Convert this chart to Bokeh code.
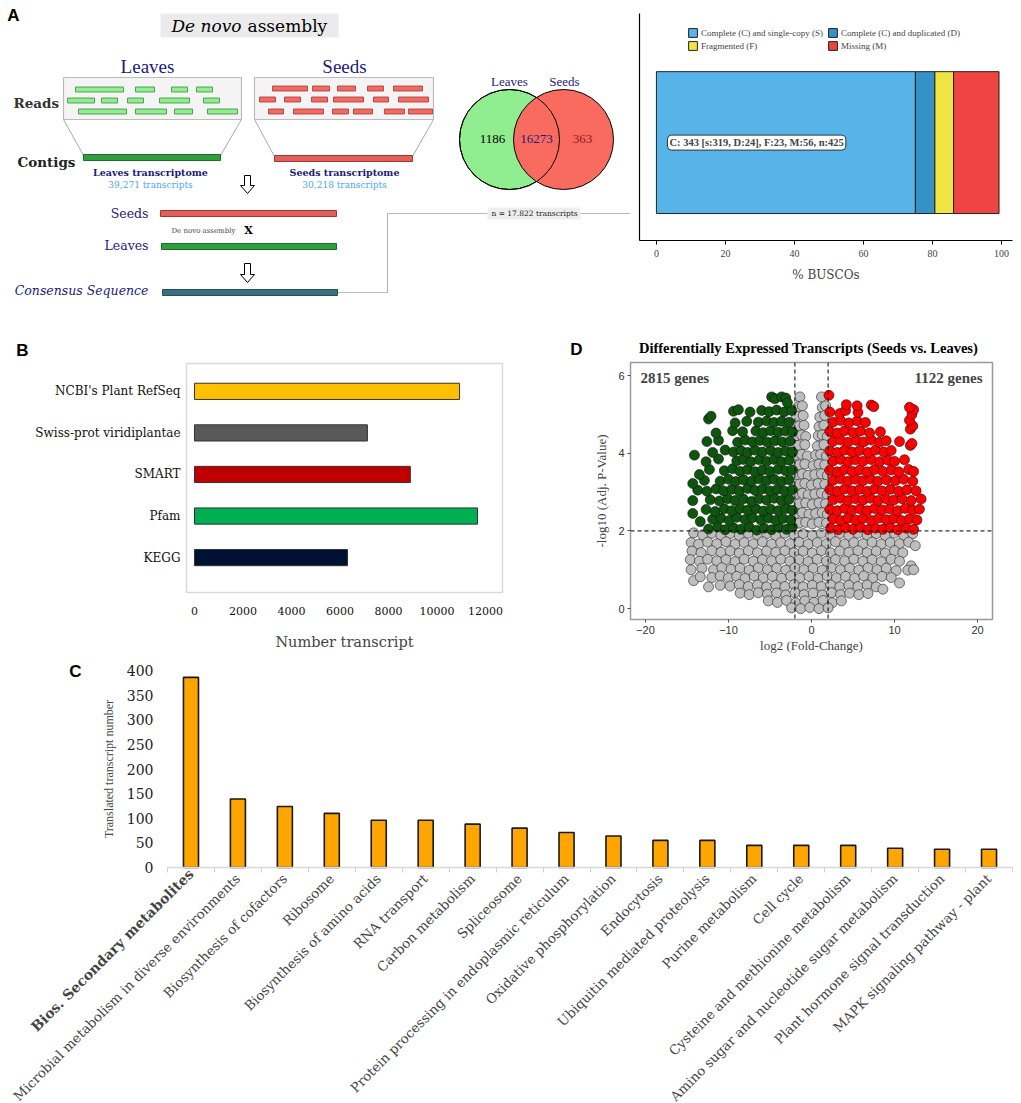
import math
from bokeh.plotting import figure
from bokeh.models import (Range1d, Label, Legend, LegendItem, FixedTicker, Span,
                          ColumnDataSource, LinearAxis)
from bokeh.layouts import column, row
from bokeh.embed import file_html
from bokeh.resources import INLINE
from bokeh.core.properties import value

SERIF = "DejaVu Serif"
TIMES = "Liberation Serif"
SANS = "Liberation Sans"
NAVY = "#1a1a7e"

# ---------------- data ----------------
venn_sets = ["Leaves", "Seeds"]
leaves_only, shared, seeds_only = 1186, 16273, 363
consensus_n = "17.822"
leaves_transcripts = "39,271"
seeds_transcripts = "30,218"

busco_classes = ["Complete (C) and single-copy (S)", "Complete (C) and duplicated (D)",
                 "Fragmented (F)", "Missing (M)"]
busco_counts = [319, 24, 23, 56]
busco_total = 425
busco_colors = ["#56B4E9", "#3492C7", "#F0E442", "#F04442"]
busco_ticks = [0, 20, 40, 60, 80, 100]

db_names = ["NCBI's Plant RefSeq", "Swiss-prot viridiplantae", "SMART", "Pfam", "KEGG"]
db_counts = [10930, 7130, 8900, 11670, 6310]
db_colors = ["#FFC000", "#595959", "#C00000", "#00B050", "#001233"]
db_ticks = [0, 2000, 4000, 6000, 8000, 10000, 12000]

kegg_paths = ["Bios. Secondary metabolites", "Microbial metabolism in diverse environments",
              "Biosynthesis of cofactors", "Ribosome", "Biosynthesis of amino acids",
              "RNA transport", "Carbon metabolism", "Spliceosome",
              "Protein processing in endoplasmic reticulum", "Oxidative phosphorylation",
              "Endocytosis", "Ubiquitin mediated proteolysis", "Purine metabolism", "Cell cycle",
              "Cysteine and methionine metabolism", "Amino sugar and nucleotide sugar metabolism",
              "Plant hormone signal transduction", "MAPK signaling pathway - plant"]
kegg_counts = [386, 139, 124, 110, 96, 96, 88, 80, 71, 64, 55, 55, 45, 45, 45, 39, 37, 37]
kegg_ticks = [0, 50, 100, 150, 200, 250, 300, 350, 400]

down_genes, up_genes = 2815, 1122
fc_cut, p_cut = 2, 2
volcano_xticks = [-20, -10, 0, 10, 20]
volcano_yticks = [0, 2, 4, 6]

green_points = [
 (-12.4,2.05),(-11.3,2.1),(-10.4,2.03),(-9.4,2.08),(-8.5,2.04),(-7.5,2.1),(-6.6,2.02),(-5.7,2.07),(-4.8,2.03),(-3.9,2.09),(-3.0,2.04),(-2.3,2.1),
 (-13.4,2.24),(-11.9,2.3),(-10.9,2.33),(-9.9,2.27),(-9.0,2.35),(-8.0,2.29),(-7.1,2.34),(-6.1,2.28),(-5.2,2.33),(-4.3,2.27),(-3.4,2.32),(-2.5,2.28),
 (-14.3,2.45),(-12.7,2.55),(-11.6,2.5),(-10.5,2.57),(-9.6,2.52),(-8.6,2.58),(-7.7,2.53),(-6.7,2.57),(-5.8,2.51),(-4.9,2.56),(-4.0,2.52),(-3.1,2.58),(-2.3,2.53),
 (-14.3,2.78),(-12.2,2.8),(-11.1,2.77),(-10.1,2.83),(-9.2,2.78),(-8.2,2.82),(-7.2,2.76),(-6.3,2.83),(-5.4,2.79),(-4.5,2.84),(-3.6,2.78),(-2.7,2.81),
 (-13.7,3.05),(-12.6,3.02),(-11.5,3.08),(-10.6,3.03),(-9.6,3.07),(-8.7,3.02),(-7.7,3.09),(-6.8,3.04),(-5.9,3.08),(-5.0,3.03),(-4.1,3.07),(-3.2,3.02),(-2.3,3.06),
 (-14.3,3.22),(-12.9,3.3),(-11.0,3.28),(-10.0,3.33),(-9.1,3.27),(-8.2,3.32),(-7.2,3.28),(-6.3,3.34),(-5.4,3.29),(-4.5,3.33),(-3.6,3.27),(-2.7,3.31),
 (-13.5,3.45),(-12.3,3.58),(-10.5,3.55),(-9.5,3.6),(-8.6,3.53),(-7.7,3.58),(-6.8,3.52),(-5.9,3.57),(-5.0,3.53),(-4.0,3.59),(-3.1,3.54),(-2.3,3.57),
 (-12.7,3.78),(-11.2,3.85),(-9.0,3.8),(-8.2,3.84),(-7.3,3.78),(-6.3,3.83),(-5.4,3.79),(-4.5,3.84),(-3.6,3.78),(-2.7,3.82),
 (-14.1,3.95),(-11.9,4.02),(-10.4,4.08),(-9.4,4.03),(-8.5,4.07),(-7.7,4.02),(-6.8,4.08),(-5.9,4.03),(-4.9,4.07),(-4.0,4.02),(-3.1,4.06),(-2.3,4.03),
 (-12.6,4.3),(-11.2,4.33),(-8.9,4.28),(-8.0,4.34),(-7.1,4.29),(-6.2,4.33),(-5.3,4.28),(-4.4,4.32),(-3.5,4.29),(-2.6,4.31),
 (-11.5,4.52),(-9.5,4.58),(-8.3,4.55),(-6.7,4.57),(-5.8,4.53),(-4.9,4.58),(-4.0,4.54),(-3.1,4.57),(-2.3,4.55),
 (-9.2,4.78),(-7.8,4.82),(-6.4,4.8),(-5.4,4.83),(-4.5,4.79),(-3.6,4.82),(-2.7,4.8),
 (-12.4,4.88),(-12.1,4.95),
 (-9.4,5.08),(-8.8,5.12),(-7.4,5.06),(-6.0,5.1),(-5.1,5.07),(-4.2,5.11),(-3.3,5.06),(-2.4,5.1),
 (-4.8,5.45),(-4.4,5.4),(-3.6,5.45),(-3.1,5.42),(-2.9,5.3),
]

red_points = [
 (2.3,2.07),(3.2,2.03),(4.1,2.08),(5.0,2.04),(5.9,2.09),(6.8,2.03),(7.7,2.07),(8.6,2.04),(9.5,2.08),(10.4,2.03),(11.4,2.07),(12.3,2.04),
 (2.6,2.31),(3.5,2.27),(4.4,2.33),(5.3,2.28),(6.2,2.32),(7.2,2.27),(8.1,2.33),(9.0,2.29),(9.9,2.32),(10.8,2.27),(11.8,2.31),(12.7,2.28),
 (2.2,2.55),(3.1,2.52),(4.0,2.58),(4.9,2.53),(5.8,2.57),(6.7,2.52),(7.6,2.58),(8.5,2.54),(9.4,2.57),(10.4,2.52),(11.3,2.58),(12.2,2.53),(13.0,2.56),
 (2.6,2.8),(3.5,2.84),(4.4,2.78),(5.3,2.83),(6.2,2.79),(7.1,2.84),(8.0,2.78),(9.0,2.82),(9.9,2.79),(10.9,2.83),(12.0,2.78),(13.2,2.82),
 (2.2,3.06),(3.1,3.02),(4.0,3.08),(4.9,3.03),(5.8,3.07),(6.7,3.02),(7.6,3.08),(8.5,3.03),(9.5,3.07),(10.5,3.02),(11.5,3.06),(12.6,3.03),
 (2.6,3.3),(3.5,3.34),(4.4,3.28),(5.3,3.33),(6.2,3.29),(7.1,3.34),(8.0,3.28),(9.0,3.32),(10.1,3.29),(11.1,3.33),(12.2,3.28),
 (2.2,3.56),(3.1,3.52),(4.0,3.58),(4.9,3.53),(5.8,3.57),(6.7,3.52),(7.6,3.58),(8.6,3.53),(9.6,3.57),(10.5,3.52),(11.7,3.58),(12.3,3.53),
 (2.6,3.8),(3.5,3.84),(4.4,3.78),(5.3,3.83),(6.2,3.79),(7.2,3.84),(8.2,3.78),(9.2,3.82),(10.0,3.79),(11.2,3.83),
 (2.2,4.06),(3.1,4.02),(4.0,4.08),(4.9,4.03),(5.8,4.07),(6.8,4.02),(7.7,4.08),(8.7,4.03),(9.6,4.07),(11.9,4.2),
 (2.6,4.3),(3.5,4.34),(4.4,4.28),(5.4,4.33),(6.3,4.29),(7.2,4.34),(8.2,4.28),(9.0,4.32),(10.6,4.3),(12.1,4.25),
 (2.2,4.56),(3.1,4.52),(4.0,4.58),(5.0,4.53),(5.9,4.57),(7.0,4.52),(8.3,4.55),(11.9,4.62),(12.2,4.7),
 (2.6,4.8),(3.5,4.84),(4.5,4.78),(5.5,4.83),(6.5,4.79),(11.8,4.85),
 (2.2,5.06),(3.4,5.02),(4.1,5.1),(5.6,5.05),(12.1,5.0),(12.3,5.12),
 (4.2,5.25),(5.5,5.22),(7.2,5.24),(7.5,5.2),(11.8,5.18),
 (2.1,5.49),
]

gray_points = [
 (-1.4,5.45),(1.2,5.45),(-1.6,5.2),(-1.1,5.22),(1.3,5.18),(1.7,5.22),
 (-1.8,4.95),(-1.0,4.97),(1.0,4.93),(1.6,4.97),(-1.5,4.7),(-0.9,4.72),(0.9,4.68),(1.5,4.72),
 (-1.9,4.45),(-1.2,4.47),(-0.7,4.43),(0.8,4.45),(1.3,4.47),(1.9,4.43),
 (-1.6,4.2),(-0.8,4.22),(0.7,4.18),(1.5,4.22),
 (-1.9,3.95),(-1.2,3.97),(-0.5,3.93),(0.5,3.95),(1.1,3.97),(1.8,3.93),
 (-1.5,3.7),(-0.8,3.72),(0.2,3.68),(0.9,3.72),(1.6,3.7),
 (-1.9,3.45),(-1.1,3.47),(-0.4,3.43),(0.4,3.45),(1.2,3.47),(1.9,3.43),
 (-1.5,3.2),(-0.8,3.22),(0.0,3.18),(0.8,3.22),(1.6,3.2),
 (-1.9,2.95),(-1.1,2.97),(-0.4,2.93),(0.4,2.95),(1.2,2.97),(1.9,2.93),
 (-1.5,2.7),(-0.7,2.72),(0.1,2.68),(0.9,2.72),(1.7,2.7),
 (-1.9,2.45),(-1.1,2.47),(-0.3,2.43),(0.5,2.45),(1.3,2.47),(1.9,2.43),
 (-1.5,2.2),(-0.7,2.22),(0.1,2.18),(0.9,2.22),(1.8,2.2),
 (-14.2,1.95),(-13.1,1.9),(-12.0,1.94),(-10.9,1.89),(-9.8,1.93),(-8.7,1.88),(-7.6,1.94),(-6.5,1.89),(-5.4,1.93),(-4.3,1.88),(-3.2,1.94),(-2.1,1.9),(-1.0,1.93),(0.1,1.88),(1.2,1.94),(2.3,1.89),(3.4,1.93),(4.5,1.88),(5.6,1.94),(6.7,1.89),(7.8,1.93),(8.9,1.88),(10.0,1.94),(11.1,1.89),(12.2,1.93),
 (-14.5,1.7),(-13.6,1.66),(-12.5,1.71),(-11.4,1.67),(-10.3,1.72),(-9.2,1.66),(-8.1,1.7),(-7.0,1.67),(-5.9,1.72),(-4.8,1.66),(-3.7,1.7),(-2.6,1.67),(-1.5,1.71),(-0.4,1.66),(0.7,1.7),(1.8,1.67),(2.9,1.72),(4.0,1.66),(5.1,1.7),(6.2,1.67),(7.3,1.71),(8.4,1.66),(9.5,1.7),(10.6,1.67),(11.7,1.71),(12.5,1.62),
 (-14.4,1.48),(-13.3,1.44),(-12.0,1.49),(-10.9,1.45),(-9.8,1.48),(-8.7,1.43),(-7.6,1.49),(-6.5,1.44),(-5.4,1.48),(-4.3,1.45),(-3.2,1.49),(-2.1,1.44),(-1.0,1.48),(0.1,1.43),(1.2,1.49),(2.3,1.44),(3.4,1.48),(4.5,1.45),(5.6,1.49),(6.7,1.44),(7.8,1.48),(8.9,1.43),(10.0,1.49),(11.0,1.44),
 (-14.6,1.26),(-13.5,1.22),(-12.5,1.27),(-11.4,1.23),(-10.3,1.26),(-9.2,1.21),(-8.1,1.27),(-7.0,1.22),(-5.9,1.26),(-4.8,1.23),(-3.7,1.27),(-2.6,1.22),(-1.5,1.26),(-0.4,1.21),(0.7,1.27),(1.8,1.22),(2.9,1.26),(4.0,1.23),(5.1,1.27),(6.2,1.22),(7.3,1.26),(8.4,1.21),(9.6,1.27),(10.6,1.22),(12.0,1.1),
 (-14.5,1.0),(-13.2,1.04),(-11.8,1.0),(-10.8,1.05),(-9.7,1.01),(-8.6,1.04),(-7.5,0.99),(-6.4,1.05),(-5.3,1.0),(-4.2,1.04),(-3.1,0.99),(-2.0,1.05),(-0.9,1.0),(0.2,1.04),(1.3,0.99),(2.4,1.05),(3.5,1.0),(4.6,1.04),(5.7,0.99),(6.8,1.05),(7.9,1.0),(9.0,1.04),(10.2,0.98),(11.6,0.99),(12.3,1.0),
 (-14.2,0.72),(-13.4,0.82),(-12.0,0.8),(-11.0,0.84),(-10.0,0.79),(-9.0,0.83),(-8.0,0.78),(-6.9,0.84),(-5.8,0.79),(-4.7,0.83),(-3.6,0.78),(-2.5,0.84),(-1.4,0.79),(-0.3,0.83),(0.8,0.78),(1.9,0.84),(3.0,0.79),(4.1,0.83),(5.2,0.78),(6.3,0.84),(7.4,0.79),(8.5,0.83),(9.6,0.8),(10.6,0.66),
 (-12.4,0.56),(-11.0,0.6),(-9.8,0.58),(-8.7,0.62),(-7.6,0.57),(-6.5,0.61),(-5.4,0.56),(-4.3,0.6),(-3.2,0.57),(-2.1,0.62),(-1.0,0.56),(0.1,0.6),(1.2,0.57),(2.3,0.61),(3.4,0.56),(4.5,0.6),(5.6,0.57),(6.7,0.61),(7.8,0.56),(8.6,0.5),
 (-8.6,0.4),(-7.5,0.36),(-6.4,0.41),(-5.3,0.37),(-4.2,0.4),(-3.1,0.35),(-2.0,0.41),(-0.9,0.36),(0.2,0.4),(1.3,0.35),(2.4,0.41),(3.5,0.36),(4.6,0.4),(5.7,0.36),(6.8,0.39),
 (-5.2,0.2),(-4.1,0.16),(-3.0,0.21),(-1.9,0.15),(-0.8,0.2),(0.3,0.16),(1.4,0.21),(2.5,0.15),(3.6,0.2),
 (-2.4,0.02),(-1.3,0.0),(-0.2,0.03),(0.9,0.0),(2.0,0.02),
]

# ---------------- helpers ----------------
def no_align(p):
    try:
        p.frame_align = False
    except AttributeError:
        pass
    return p

def txt(p, x, y, s, size, color="black", font=SERIF, style="normal", align="center"):
    p.text(x=[x], y=[y], text=[s], text_font=value(font), text_font_size=size,
           text_color=color, text_font_style=style, text_align=align, text_baseline="middle")

def blank(width, height, xr, yr):
    p = figure(width=width, height=height, x_range=Range1d(*xr), y_range=Range1d(*yr),
               x_axis_location=None, y_axis_location=None, toolbar_location=None,
               output_backend="svg", min_border=0, outline_line_color=None)
    p.grid.visible = False
    return no_align(p)

# ---------------- Panel A : schematic + Venn (canvas units, y measured down) ----------------
H = 320
def Y(v):
    return H - v

pa = blank(630, 320, (0, 630), (0, 320))

txt(pa, 13, Y(15), "A", "17px", font=SANS, style="bold")
pa.quad(left=[160], right=[338], top=[Y(13)], bottom=[Y(37)], fill_color="#ebebeb", line_color=None)
txt(pa, 241, Y(25), "De novo", "17px", style="italic", align="right")
txt(pa, 247, Y(25), "assembly", "17px", align="left")

txt(pa, 147, Y(66), "Leaves", "19px", color=NAVY, font=TIMES)
txt(pa, 344, Y(66), "Seeds", "19px", color=NAVY, font=TIMES)

pa.quad(left=[63, 254], right=[241, 433], top=[Y(77), Y(77)], bottom=[Y(119), Y(119)],
        fill_color="#f4f4f4", line_color="#bbbbbb", line_width=1.2)
pa.segment(x0=[63, 241, 254, 433], y0=[Y(119)] * 4, x1=[83, 220, 274, 412],
           y1=[Y(155), Y(155), Y(156), Y(156)], line_color="#aaaaaa", line_width=1)

leaf_read_l = [75, 135, 171, 196, 67, 101, 127, 159, 203, 78, 135, 174, 207]
leaf_read_r = [123, 154, 187, 212, 94, 117, 143, 189, 219, 126, 166, 192, 237]
leaf_read_y = [89, 89, 89, 89, 100, 100, 100, 100, 100, 111, 111, 111, 111]
pa.quad(left=leaf_read_l, right=leaf_read_r, top=[Y(y - 2.5) for y in leaf_read_y],
        bottom=[Y(y + 2.5) for y in leaf_read_y], fill_color="#90EE90", line_color="#3a8a3a", line_width=0.8)
seed_read_l = [272, 312, 337, 367, 393, 259, 284, 311, 333, 373, 398, 268, 293, 332, 353, 384, 408]
seed_read_r = [307, 329, 355, 383, 422, 275, 300, 327, 363, 388, 428, 283, 323, 348, 372, 404, 432]
seed_read_y = [88, 88, 88, 88, 88, 99, 99, 99, 99, 99, 99, 111, 111, 111, 111, 111, 111]
pa.quad(left=seed_read_l, right=seed_read_r, top=[Y(y - 2.5) for y in seed_read_y],
        bottom=[Y(y + 2.5) for y in seed_read_y], fill_color="#F26B63", line_color="#a83232", line_width=0.8)

pa.quad(left=[83], right=[220], top=[Y(154)], bottom=[Y(160)], fill_color="#2E9E3E", line_color="#1d6b27")
pa.quad(left=[274], right=[412], top=[Y(155)], bottom=[Y(161)], fill_color="#E0605A", line_color="#a83232")
txt(pa, 13, Y(102), "Reads", "13.5px", color="#333333", style="bold", align="left")
txt(pa, 17, Y(161), "Contigs", "13.5px", color="#222222", style="bold", align="left")
txt(pa, 150, Y(172), "Leaves transcriptome", "9.5px", color=NAVY, style="bold")
txt(pa, 150, Y(184), leaves_transcripts + " transcripts", "9px", color="#4da3ff")
txt(pa, 344, Y(172), "Seeds transcriptome", "9.5px", color=NAVY, style="bold")
txt(pa, 344, Y(184), seeds_transcripts + " transcripts", "9px", color="#4da3ff")

for cx, ty, by in [(247, 175, 193), (247, 263, 282)]:
    xs = [cx - 3, cx + 3, cx + 3, cx + 7, cx, cx - 7, cx - 3]
    ys = [ty, ty, by - 8, by - 8, by, by - 8, by - 8]
    pa.patch(xs, [Y(v) for v in ys], fill_color="white", line_color="black", line_width=1)

pa.quad(left=[160], right=[336], top=[Y(210)], bottom=[Y(216)], fill_color="#E0605A", line_color="#a83232")
pa.quad(left=[161], right=[336], top=[Y(243)], bottom=[Y(249)], fill_color="#2E9E3E", line_color="#1d6b27")
pa.quad(left=[162], right=[337], top=[Y(289)], bottom=[Y(295)], fill_color="#3B6E7E", line_color="#24505c")
txt(pa, 148, Y(213), "Seeds", "12.5px", color=NAVY, align="right")
txt(pa, 148, Y(245), "Leaves", "12.5px", color=NAVY, align="right")
txt(pa, 148, Y(290), "Consensus Sequence", "12.5px", color=NAVY, style="italic", align="right")
txt(pa, 171, Y(230), "De novo assembly", "7px", color="#444444", align="left")
txt(pa, 248, Y(230), "X", "11px", style="bold")

pa.line(x=[338, 387, 387, 630], y=[Y(292), Y(292), Y(213), Y(213)], line_color="#777777",
        line_dash="1 1", line_width=1.2)
pa.quad(left=[487], right=[580], top=[Y(207)], bottom=[Y(219)], fill_color="#eeeeee", line_color=None)
txt(pa, 534, Y(213), "n = " + consensus_n + " transcripts", "7.5px", color="#222222")

pa.circle(x=[509], y=[Y(139)], radius=50, fill_color="#90EE90", line_color="black", line_width=1)
pa.circle(x=[563], y=[Y(139)], radius=50, fill_color="#FA6B5F", line_color="black", line_width=1)
pa.circle(x=[509], y=[Y(139)], radius=50, fill_color=None, line_color="black", line_width=1)
txt(pa, 509, Y(81), venn_sets[0], "13px", color=NAVY, font=TIMES)
txt(pa, 564, Y(81), venn_sets[1], "13px", color=NAVY, font=TIMES)
txt(pa, 492, Y(138), str(leaves_only), "13px", font=TIMES)
txt(pa, 536, Y(138), str(shared), "13px", color=NAVY, font=TIMES)
txt(pa, 582, Y(138), str(seeds_only), "13px", color="#8b1a1a", font=TIMES)

# ---------------- Panel A : BUSCO ----------------
pbu = no_align(figure(width=383, height=320, x_range=Range1d(-4.9, 103.2), y_range=Range1d(-0.19, 1.41),
             toolbar_location=None, output_backend="svg", min_border_left=9, min_border_right=1,
             min_border_top=13, min_border_bottom=80, outline_line_color=None))
pbu.grid.visible = False
pct = [c / busco_total * 100 for c in busco_counts]
lefts, rights, acc = [], [], 0.0
for v in pct:
    lefts.append(acc)
    acc += v
    rights.append(acc)
bsrc = ColumnDataSource(dict(left=lefts, right=rights, color=busco_colors))
rb = pbu.hbar(y=0.5, height=1.0, left="left", right="right", fill_color="color",
              line_color="#222222", line_width=1, source=bsrc)
for k, (a, b) in enumerate([(0, 1), (2, 3)]):
    leg = Legend(items=[LegendItem(label=busco_classes[a], renderers=[rb], index=a),
                        LegendItem(label=busco_classes[b], renderers=[rb], index=b)],
                 orientation="horizontal", location=(48, 202 - 13 * k),
                 glyph_width=11, glyph_height=11, label_width=126, label_height=11,
                 label_standoff=3, spacing=0, padding=0, margin=0,
                 border_line_color=None, background_fill_alpha=0,
                 label_text_font=TIMES, label_text_font_size="9px")
    pbu.add_layout(leg)
s, d, f, m = busco_counts
pbu.add_layout(Label(x=3.2, y=0.5, text=f"C: {s + d} [s:{s}, D:{d}], F:{f}, M:{m}, n:{busco_total}",
                     text_font=TIMES, text_font_style="bold", text_font_size="10.5px",
                     text_baseline="middle", background_fill_color="white",
                     border_line_color="#333333", padding=2, border_radius=4))
pbu.xaxis.ticker = FixedTicker(ticks=busco_ticks)
pbu.xaxis.axis_label = "% BUSCOs"
pbu.xaxis.axis_label_text_font = SERIF
pbu.xaxis.axis_label_text_font_style = "normal"
pbu.xaxis.axis_label_text_font_size = "12px"
pbu.xaxis.axis_label_standoff = 8
pbu.xaxis.major_label_text_font = TIMES
pbu.xaxis.major_label_text_font_size = "10px"
pbu.xaxis.major_label_standoff = 5
pbu.xaxis.major_tick_out = 4
pbu.xaxis.major_tick_in = 0
pbu.xaxis.minor_tick_line_color = None
pbu.axis.axis_line_width = 1.2
pbu.yaxis.ticker = FixedTicker(ticks=[])
pbu.yaxis.major_tick_line_color = None
pbu.yaxis.minor_tick_line_color = None
pbu.yaxis.major_tick_out = 0
pbu.yaxis.major_label_standoff = 0

# ---------------- strip with panel letters B, D and the title of D ----------------
SH = 41
strip = blank(1013, SH, (0, 1013), (0, SH))
txt(strip, 22, 361 - 350, "B", "17px", font=SANS, style="bold")
txt(strip, 576, 361 - 349, "D", "17px", font=SANS, style="bold")
txt(strip, 808, 361 - 347, "Differentially Expressed Transcripts (Seeds vs. Leaves)", "14.5px",
    font=TIMES, style="bold")

# ---------------- Panel B ----------------
pb = no_align(figure(width=575, height=294, x_range=Range1d(-330, 12700), y_range=Range1d(0.16, 5.67),
            toolbar_location=None, output_backend="svg", min_border_left=186, min_border_right=73,
            min_border_top=2, min_border_bottom=63, outline_line_color="#d9d9d9", outline_line_width=1.5))
pb.grid.visible = False
db_pos = list(range(len(db_names), 0, -1))
pb.hbar(y=db_pos, height=0.39, left=0, right=db_counts, fill_color=db_colors,
        line_color="#333333", line_width=1)
pb.yaxis.ticker = FixedTicker(ticks=db_pos)
pb.yaxis.major_label_overrides = {p: n for p, n in zip(db_pos, db_names)}
pb.yaxis.major_label_text_font = SERIF
pb.yaxis.major_label_text_font_size = "12px"
pb.yaxis.major_label_standoff = 6
pb.xaxis.ticker = FixedTicker(ticks=db_ticks)
pb.xaxis.major_label_text_font = SERIF
pb.xaxis.major_label_text_font_size = "11px"
pb.xaxis.major_label_standoff = 14
pb.xaxis.axis_label = "Number transcript"
pb.xaxis.axis_label_text_font = SERIF
pb.xaxis.axis_label_text_font_style = "normal"
pb.xaxis.axis_label_text_font_size = "14.5px"
pb.xaxis.axis_label_standoff = 16
for ax in pb.axis:
    ax.axis_line_color = None
    ax.major_tick_line_color = None
    ax.minor_tick_line_color = None
    ax.major_tick_out = 0
    ax.major_label_text_color = "#111111"

# ---------------- Panel D ----------------
pdv = no_align(figure(width=438, height=294, x_range=Range1d(-21.8, 21.8), y_range=Range1d(-0.28, 6.335),
             toolbar_location=None, output_backend="svg", min_border_left=55, min_border_right=21,
             min_border_top=1, min_border_bottom=35, outline_line_color="#9a9a9a", outline_line_width=1.5))
pdv.grid.visible = False
gx, gy = zip(*gray_points)
grx, gry = zip(*green_points)
rx, ry = zip(*red_points)
pdv.scatter(list(gx), list(gy), size=10, fill_color="#BEBEBE", line_color="#222222", line_width=0.6)
pdv.scatter(list(grx), list(gry), size=10, fill_color="#0E560E", line_color="#111111", line_width=0.6)
pdv.scatter(list(rx), list(ry), size=10, fill_color="#FF0000", line_color="#330000", line_width=0.6)
for loc, dim in [(-fc_cut, "height"), (fc_cut, "height"), (p_cut, "width")]:
    pdv.add_layout(Span(location=loc, dimension=dim, line_color="black", line_dash="4 3", line_width=1))
pdv.xaxis.ticker = FixedTicker(ticks=volcano_xticks)
pdv.yaxis.ticker = FixedTicker(ticks=volcano_yticks)
pdv.xaxis.axis_label = "log2 (Fold-Change)"
pdv.yaxis.axis_label = "-log10 (Adj. P-Value)"
for ax in pdv.axis:
    ax.axis_line_color = None
    ax.major_tick_line_color = "#4d4d4d"
    ax.minor_tick_line_color = None
    ax.major_tick_out = 3
    ax.major_tick_in = 0
    ax.major_label_text_font = SANS
    ax.major_label_text_font_size = "11px"
    ax.major_label_text_color = "#333333"
    ax.major_label_standoff = 3
    ax.axis_label_text_font = TIMES
    ax.axis_label_text_font_style = "normal"
    ax.axis_label_text_font_size = "13px"
pdv.xaxis.axis_label_standoff = 1
pdv.yaxis.axis_label_standoff = 6
pdv.add_layout(Label(x=-20.6, y=5.94, text=f"{down_genes} genes", text_font=TIMES,
                     text_font_style="bold", text_font_size="15px",
                     text_align="left", text_baseline="middle"))
pdv.add_layout(Label(x=20.6, y=5.94, text=f"{up_genes} genes", text_font=TIMES,
                     text_font_style="bold", text_font_size="15px",
                     text_align="right", text_baseline="middle"))

# ---------------- Panel C (frame covers the whole canvas; axes pinned inside it) ----------------
C_TOP, C_H = 655, 448
C_PPX = 845 / len(kegg_paths)      # pixels per category
C_PPY = 197 / 400                  # pixels per transcript
pc = no_align(figure(width=1013, height=C_H,
            x_range=Range1d(-167 / C_PPX, (1013 - 167) / C_PPX),
            y_range=Range1d(-(C_TOP + C_H - 867) / C_PPY, (867 - C_TOP) / C_PPY),
            x_axis_location=None, y_axis_location=None,
            toolbar_location=None, output_backend="svg", min_border=0, outline_line_color=None))
pc.grid.visible = False
centers = [i + 0.5 for i in range(len(kegg_paths))]
bounds = list(range(len(kegg_paths) + 1))
pc.vbar(x=centers, top=kegg_counts, width=0.32, bottom=0, fill_color="#FFA500",
        line_color="#1a1a1a", line_width=1.6)

xax = LinearAxis(fixed_location=0, bounds=(0, len(kegg_paths)),
                 ticker=FixedTicker(ticks=centers[1:], minor_ticks=bounds),
                 major_label_overrides={c: n for c, n in zip(centers[1:], kegg_paths[1:])},
                 major_label_orientation=math.pi / 4,
                 major_label_text_font=SERIF, major_label_text_font_size="13.3px",
                 major_label_standoff=4, major_tick_line_color=None, major_tick_out=0,
                 minor_tick_line_color="#d0d0d0", minor_tick_out=5, minor_tick_in=0,
                 axis_line_color="#d9d9d9", axis_line_width=1.5)
pc.add_layout(xax, "below")
bold_axis = LinearAxis(fixed_location=0, ticker=FixedTicker(ticks=[centers[0]]),
                       major_label_overrides={centers[0]: kegg_paths[0]},
                       major_label_orientation=math.pi / 4, major_label_text_font=SERIF,
                       major_label_text_font_style="bold", major_label_text_font_size="14px",
                       major_label_standoff=4, major_tick_out=0, major_tick_line_color=None,
                       minor_tick_line_color=None, axis_line_color=None)
pc.add_layout(bold_axis, "below")
yax = LinearAxis(fixed_location=0, bounds=(0, 400), ticker=FixedTicker(ticks=kegg_ticks),
                 axis_line_color=None, major_tick_line_color=None, minor_tick_line_color=None,
                 major_tick_out=0, major_label_standoff=14, major_label_text_font=SERIF,
                 major_label_text_font_size="14px", major_label_text_color="#222222",
                 axis_label="Translated transcript number", axis_label_text_font=TIMES,
                 axis_label_text_font_style="normal", axis_label_text_font_size="12px",
                 axis_label_standoff=8)
pc.add_layout(yax, "left")
txt(pc, (75 - 167) / C_PPX, (867 - 671) / C_PPY, "C", "17px", font=SANS, style="bold")

layout = column(row(pa, pbu), strip, row(pb, pdv), pc)
open("out.html", "w").write(file_html(layout, INLINE))
